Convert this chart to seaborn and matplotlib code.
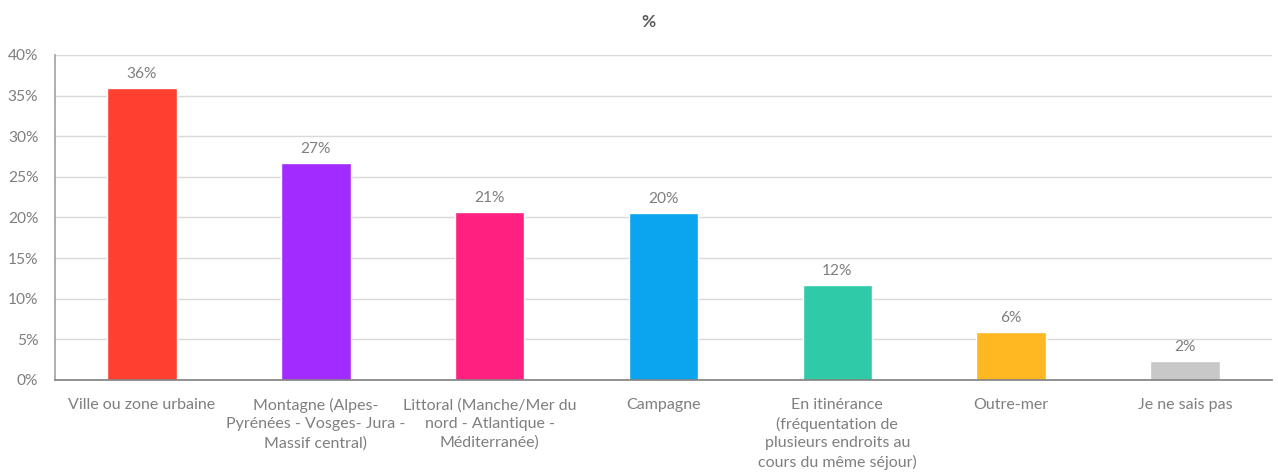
import matplotlib
matplotlib.use("Agg")
import matplotlib.pyplot as plt
import seaborn as sns
import pandas as pd

categories = [
    "Ville ou zone urbaine",
    "Montagne (Alpes-\nPyrénées - Vosges- Jura -\nMassif central)",
    "Littoral (Manche/Mer du\nnord - Atlantique -\nMéditerranée)",
    "Campagne",
    "En itinérance\n(fréquentation de\nplusieurs endroits au\ncours du même séjour)",
    "Outre-mer",
    "Je ne sais pas",
]
values = [35.9, 26.7, 20.7, 20.6, 11.7, 5.9, 2.3]
value_labels = ["36%", "27%", "21%", "20%", "12%", "6%", "2%"]
colors = ["#FF4030", "#A22BFF", "#FF2080", "#0AA5EE", "#2FCBA8", "#FFB822", "#C8C8C8"]
yticks = [0, 5, 10, 15, 20, 25, 30, 35, 40]

sns.set_theme(style="white")
plt.rcParams["font.family"] = ["Lato", "DejaVu Sans"]

df = pd.DataFrame({"cat": categories, "val": values})

fig = plt.figure(figsize=(12.78, 4.72), dpi=100)
ax = fig.add_axes([0.043, 0.195, 0.9523, 0.6885])
sns.barplot(data=df, x="cat", y="val", hue="cat", palette=colors, width=0.4,
            legend=False, ax=ax, saturation=1)

txt = "#7F7F7F"
ax.set_ylim(0, 40)
ax.set_xlim(-0.5, len(categories) - 0.5)
ax.set_yticks(yticks)
ax.set_yticklabels([f"{t}%" for t in yticks], color=txt, fontsize=11.2)
ax.set_xticks(range(len(categories)))
ax.set_xticklabels(categories, color=txt, fontsize=11.5, linespacing=1.4, va="top")
ax.tick_params(axis="both", length=0)
ax.tick_params(axis="x", pad=13)
ax.tick_params(axis="y", pad=12)
ax.set_xlabel("")
ax.set_ylabel("")
ax.yaxis.grid(True, color="#D9D9D9", linewidth=1)
ax.set_axisbelow(True)
for s in ["top", "right"]:
    ax.spines[s].set_visible(False)
ax.spines["left"].set_color("#A6A6A6")
ax.spines["bottom"].set_color("#808080")
ax.spines["bottom"].set_linewidth(1.2)

for i, (v, lab) in enumerate(zip(values, value_labels)):
    ax.annotate(lab, (i, v), xytext=(0, 5), textcoords="offset points",
                ha="center", va="bottom", color=txt, fontsize=11.2)

fig.text(0.507, 0.953, "%", ha="center", va="center", color="#595959",
         fontsize=12.5, fontweight="bold")

fig.savefig("out.png", dpi=100)
